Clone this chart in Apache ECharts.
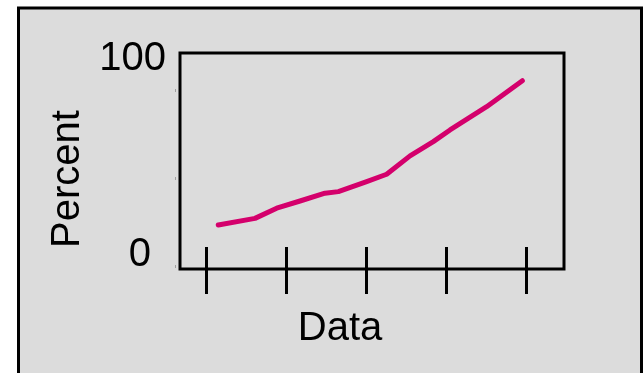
<!DOCTYPE html>
<html>
<head>
<meta charset="utf-8">
<title>Percent vs Data</title>
<script src="https://cdn.jsdelivr.net/npm/echarts@6/dist/echarts.min.js"></script>
<style>
  html, body { margin: 0; padding: 0; background: #ffffff; }
  #chart { width: 643px; height: 373px; }
</style>
</head>
<body>
<div id="chart"></div>
<script>
// Curve samples: position along the "Data" axis and the matching percentage
const dataX = [1.145, 1.604, 1.875, 2.167, 2.479, 2.646, 3.0, 3.25, 3.542, 3.833, 4.042, 4.5, 4.946];
const percentY = [15.1, 18.5, 23.7, 27.4, 31.4, 32.2, 37.3, 41.1, 50.5, 57.8, 63.8, 75.7, 89.0];

// Axis ticks and labels
const xTickValues = [1, 2, 3, 4, 5];
const yLabelValues = [0, 100];
const yMinorTickValues = [-5.9, 39.2, 84.25];

const FONT = '"Liberation Sans", Arial, sans-serif';

const chart = echarts.init(document.getElementById('chart'), null, { renderer: 'canvas' });

const xRange = { min: 0.6667, max: 5.4667 };
const yRange = { min: -7.43, max: 103.2 };

const option = {
  backgroundColor: '#ffffff',
  animation: false,
  graphic: [{
    type: 'rect',
    z: -10,
    silent: true,
    shape: { x: 18.5, y: 8, width: 623, height: 400 },
    style: { fill: '#dcdcdc', stroke: '#000000', lineWidth: 3 }
  }],
  grid: {
    left: 180, top: 53, right: 79, bottom: 104,
    show: true,
    backgroundColor: 'transparent',
    borderColor: '#000000',
    borderWidth: 3
  },
  xAxis: [{
    type: 'value',
    min: xRange.min, max: xRange.max,
    position: 'bottom',
    name: 'Data',
    nameLocation: 'middle',
    nameGap: 40,
    nameTextStyle: { fontFamily: FONT, fontSize: 40, color: '#000000', padding: [0, 64, 0, 0] },
    axisLine: { show: false, onZero: false },
    splitLine: { show: false },
    axisLabel: { show: false },
    axisTick: {
      show: true, customValues: xTickValues, length: 25,
      lineStyle: { color: '#000000', width: 3 }
    }
  }, {
    type: 'value',
    min: xRange.min, max: xRange.max,
    position: 'bottom',
    axisLine: { show: false, onZero: false },
    splitLine: { show: false },
    axisLabel: { show: false },
    axisTick: {
      show: true, inside: true, customValues: xTickValues, length: 22,
      lineStyle: { color: '#000000', width: 3 }
    }
  }],
  yAxis: [{
    type: 'value',
    min: yRange.min, max: yRange.max,
    name: 'Percent',
    nameLocation: 'middle',
    nameRotate: 90,
    nameGap: 92,
    nameTextStyle: { fontFamily: FONT, fontSize: 40, color: '#000000', padding: [0, 36, 0, 0] },
    axisLine: { show: false, onZero: false },
    axisTick: { show: false },
    splitLine: { show: false },
    axisLabel: {
      show: true,
      customValues: yLabelValues,
      margin: 14,
      formatter: function (v) { return v === 0 ? '{low|0}' : '{high|' + v + '}'; },
      rich: {
        low: { fontFamily: FONT, fontSize: 40, color: '#000000', padding: [0, 15, 0, 0] },
        high: { fontFamily: FONT, fontSize: 40, color: '#000000' }
      }
    }
  }, {
    // faint minor marks just left of the frame
    type: 'value',
    min: yRange.min, max: yRange.max,
    position: 'left',
    offset: 4,
    axisLine: { show: false, onZero: false },
    splitLine: { show: false },
    axisLabel: { show: false },
    axisTick: {
      show: true, customValues: yMinorTickValues, length: 1,
      lineStyle: { color: '#a0a0a0', width: 3 }
    }
  }],
  series: [{
    type: 'line',
    xAxisIndex: 0,
    yAxisIndex: 0,
    data: dataX.map((x, i) => [x, percentY[i]]),
    showSymbol: false,
    smooth: false,
    lineStyle: { color: '#d4006c', width: 5, cap: 'round', join: 'round' }
  }]
};

chart.setOption(option);
</script>
</body>
</html>
